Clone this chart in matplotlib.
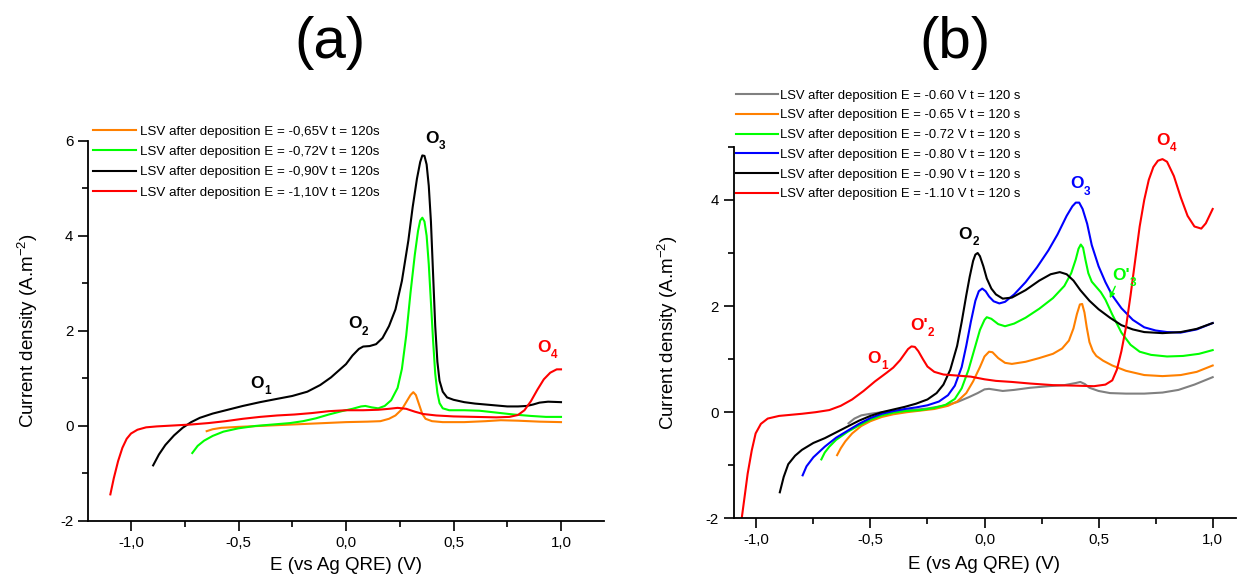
"""
Two-panel LSV plot: current density vs potential after deposition at
several potentials, (a) and (b), with peak labels O1..O4.
"""

import matplotlib

matplotlib.use("Agg")
import matplotlib.pyplot as plt
from matplotlib.ticker import FuncFormatter, MultipleLocator
from matplotlib.transforms import offset_copy

W, H = 1238, 579

# ---- panel (a) data -------------------------------------------------------
a_labels = [
    "LSV after deposition E = -0,65V t = 120s",
    "LSV after deposition E = -0,72V t = 120s",
    "LSV after deposition E = -0,90V t = 120s",
    "LSV after deposition E = -1,10V t = 120s",
]

a_x_065 = [-0.648, -0.62, -0.58, -0.50, -0.40, -0.30, -0.20, -0.10, 0.00, 0.10,
           0.16, 0.20, 0.23, 0.26, 0.28, 0.30, 0.313, 0.325, 0.34, 0.355, 0.37,
           0.40, 0.45, 0.55, 0.65, 0.72, 0.80, 0.90, 1.00]
a_y_065 = [-0.11, -0.07, -0.04, -0.02, 0.00, 0.02, 0.04, 0.06, 0.08, 0.09,
           0.10, 0.15, 0.22, 0.35, 0.50, 0.65, 0.71, 0.65, 0.45, 0.25, 0.15,
           0.10, 0.08, 0.08, 0.10, 0.12, 0.11, 0.09, 0.08]

a_x_072 = [-0.715, -0.69, -0.66, -0.62, -0.57, -0.50, -0.42, -0.34, -0.26, -0.20,
           -0.14, -0.08, -0.02, 0.03, 0.07, 0.09, 0.12, 0.15, 0.18, 0.21, 0.24,
           0.26, 0.28, 0.30, 0.32, 0.335, 0.345, 0.355, 0.365, 0.375, 0.385,
           0.395, 0.405, 0.415, 0.425, 0.435, 0.45, 0.48, 0.55, 0.62, 0.70,
           0.78, 0.86, 0.93, 1.00]
a_y_072 = [-0.57, -0.42, -0.31, -0.21, -0.12, -0.05, 0.00, 0.03, 0.06, 0.10,
           0.16, 0.24, 0.31, 0.36, 0.41, 0.42, 0.39, 0.37, 0.42, 0.54, 0.80,
           1.20, 1.90, 2.80, 3.60, 4.10, 4.32, 4.38, 4.30, 4.00, 3.40,
           2.60, 1.80, 1.10, 0.70, 0.48, 0.37, 0.33, 0.33, 0.32, 0.28,
           0.24, 0.21, 0.19, 0.19]

a_x_090 = [-0.897, -0.87, -0.84, -0.80, -0.76, -0.72, -0.68, -0.62, -0.55, -0.48,
           -0.40, -0.32, -0.25, -0.18, -0.12, -0.07, -0.03, 0.00, 0.03, 0.06,
           0.08, 0.11, 0.14, 0.17, 0.20, 0.23, 0.26, 0.29, 0.31, 0.33, 0.345,
           0.355, 0.365, 0.375, 0.385, 0.395, 0.405, 0.415, 0.425, 0.435, 0.45,
           0.47, 0.50, 0.55, 0.60, 0.65, 0.70, 0.75, 0.80, 0.84, 0.87, 0.90,
           0.94, 1.00]
a_y_090 = [-0.83, -0.60, -0.40, -0.20, -0.04, 0.08, 0.17, 0.26, 0.34, 0.42,
           0.50, 0.57, 0.63, 0.72, 0.86, 1.02, 1.18, 1.30, 1.48, 1.62,
           1.67, 1.68, 1.72, 1.85, 2.10, 2.45, 3.05, 3.90, 4.60, 5.20, 5.55,
           5.69, 5.68, 5.50, 5.05, 4.30, 3.20, 2.10, 1.35, 0.95, 0.72,
           0.60, 0.55, 0.50, 0.47, 0.45, 0.43, 0.41, 0.41, 0.42, 0.45, 0.49,
           0.51, 0.50]

a_x_110 = [-1.096, -1.08, -1.06, -1.04, -1.02, -1.00, -0.97, -0.93, -0.88, -0.80,
           -0.72, -0.64, -0.56, -0.48, -0.40, -0.32, -0.24, -0.16, -0.08, 0.00,
           0.08, 0.15, 0.20, 0.24, 0.28, 0.32, 0.36, 0.42, 0.50, 0.60, 0.70,
           0.76, 0.80, 0.83, 0.86, 0.89, 0.92, 0.95, 0.98, 1.00]
a_y_110 = [-1.44, -1.10, -0.74, -0.46, -0.27, -0.16, -0.08, -0.03, -0.01, 0.01,
           0.03, 0.06, 0.10, 0.15, 0.19, 0.22, 0.24, 0.27, 0.31, 0.33,
           0.33, 0.34, 0.36, 0.38, 0.36, 0.30, 0.25, 0.22, 0.20, 0.19, 0.18,
           0.19, 0.23, 0.33, 0.52, 0.76, 0.98, 1.12, 1.19, 1.19]

# ---- panel (b) data -------------------------------------------------------
b_labels = [
    "LSV after deposition E = -0.60 V t = 120 s",
    "LSV after deposition E = -0.65 V t = 120 s",
    "LSV after deposition E = -0.72 V t = 120 s",
    "LSV after deposition E = -0.80 V t = 120 s",
    "LSV after deposition E = -0.90 V t = 120 s",
    "LSV after deposition E = -1.10 V t = 120 s",
]

b_x_060 = [-0.596, -0.57, -0.54, -0.50, -0.45, -0.40, -0.32, -0.25, -0.18, -0.12,
           -0.07, -0.03, 0.00, 0.02, 0.05, 0.08, 0.13, 0.20, 0.28, 0.35, 0.40,
           0.42, 0.44, 0.46, 0.50, 0.55, 0.62, 0.70, 0.78, 0.85, 0.92, 1.00]
b_y_060 = [-0.21, -0.12, -0.06, -0.03, 0.00, 0.02, 0.04, 0.07, 0.12, 0.19,
           0.28, 0.36, 0.43, 0.44, 0.42, 0.40, 0.42, 0.46, 0.49, 0.51, 0.55,
           0.57, 0.53, 0.46, 0.40, 0.36, 0.35, 0.35, 0.37, 0.42, 0.52, 0.66]

b_x_065 = [-0.646, -0.63, -0.61, -0.58, -0.54, -0.50, -0.45, -0.40, -0.34, -0.28,
           -0.22, -0.16, -0.12, -0.08, -0.05, -0.02, 0.00, 0.02, 0.035, 0.06,
           0.09, 0.12, 0.18, 0.24, 0.30, 0.34, 0.37, 0.39, 0.405, 0.418, 0.428,
           0.438, 0.448, 0.46, 0.475, 0.49, 0.52, 0.56, 0.62, 0.70, 0.78, 0.86,
           0.93, 1.00]
b_y_065 = [-0.81, -0.68, -0.55, -0.40, -0.26, -0.17, -0.09, -0.04, 0.00, 0.03,
           0.06, 0.12, 0.20, 0.36, 0.58, 0.85, 1.05, 1.14, 1.13, 1.02,
           0.93, 0.91, 0.95, 1.02, 1.10, 1.20, 1.35, 1.58, 1.85, 2.03, 2.04,
           1.88, 1.60, 1.32, 1.15, 1.06, 0.97, 0.88, 0.78, 0.70, 0.68, 0.70,
           0.76, 0.88]

b_x_072 = [-0.715, -0.70, -0.68, -0.65, -0.60, -0.55, -0.50, -0.45, -0.40, -0.35,
           -0.28, -0.22, -0.17, -0.13, -0.10, -0.07, -0.04, -0.02, 0.00, 0.01,
           0.03, 0.06, 0.09, 0.13, 0.18, 0.24, 0.30, 0.35, 0.38, 0.40, 0.412,
           0.422, 0.432, 0.442, 0.455, 0.47, 0.49, 0.51, 0.53, 0.56, 0.60,
           0.64, 0.68, 0.73, 0.80, 0.87, 0.94, 1.00]
b_y_072 = [-0.89, -0.76, -0.65, -0.52, -0.37, -0.25, -0.14, -0.06, -0.01, 0.02,
           0.04, 0.08, 0.14, 0.25, 0.45, 0.80, 1.25, 1.55, 1.74, 1.79,
           1.76, 1.66, 1.62, 1.67, 1.78, 1.95, 2.15, 2.38, 2.62, 2.88, 3.08,
           3.16, 3.10, 2.88, 2.62, 2.46, 2.36, 2.26, 2.12, 1.84, 1.50,
           1.27, 1.14, 1.08, 1.05, 1.06, 1.10, 1.17]

b_x_080 = [-0.797, -0.78, -0.75, -0.70, -0.65, -0.60, -0.55, -0.50, -0.45, -0.40,
           -0.35, -0.30, -0.25, -0.20, -0.16, -0.13, -0.10, -0.08, -0.06, -0.04,
           -0.025, -0.01, 0.005, 0.02, 0.04, 0.065, 0.09, 0.13, 0.18, 0.23, 0.28,
           0.32, 0.36, 0.385, 0.40, 0.415, 0.43, 0.45, 0.47, 0.50, 0.53, 0.56,
           0.60, 0.65, 0.70, 0.75, 0.80, 0.86, 0.93, 1.00]
b_y_080 = [-1.19, -1.02, -0.85, -0.65, -0.48, -0.35, -0.22, -0.11, -0.03, 0.02,
           0.06, 0.09, 0.13, 0.20, 0.32, 0.50, 0.85, 1.25, 1.70, 2.10,
           2.28, 2.33, 2.28, 2.18, 2.09, 2.05, 2.08, 2.22, 2.45, 2.73, 3.05,
           3.35, 3.70, 3.88, 3.95, 3.95, 3.83, 3.55, 3.15, 2.75, 2.45, 2.20,
           1.96, 1.74, 1.60, 1.54, 1.51, 1.50, 1.56, 1.68]

b_x_090 = [-0.897, -0.88, -0.86, -0.83, -0.80, -0.75, -0.70, -0.65, -0.60, -0.55,
           -0.50, -0.45, -0.40, -0.35, -0.30, -0.25, -0.21, -0.18, -0.15, -0.12,
           -0.10, -0.08, -0.065, -0.05, -0.04, -0.03, -0.02, -0.005, 0.01, 0.03,
           0.05, 0.08, 0.12, 0.18, 0.24, 0.29, 0.33, 0.36, 0.39, 0.42, 0.46,
           0.50, 0.55, 0.60, 0.65, 0.70, 0.78, 0.86, 0.93, 1.00]
b_y_090 = [-1.51, -1.22, -0.98, -0.82, -0.71, -0.58, -0.49, -0.38, -0.27, -0.16,
           -0.07, 0.00, 0.05, 0.10, 0.16, 0.24, 0.36, 0.52, 0.80, 1.25,
           1.70, 2.20, 2.55, 2.85, 2.97, 3.00, 2.94, 2.75, 2.52, 2.33,
           2.22, 2.14, 2.16, 2.30, 2.48, 2.60, 2.64, 2.60, 2.48, 2.30, 2.10,
           1.94, 1.78, 1.64, 1.56, 1.51, 1.49, 1.51, 1.57, 1.68]

b_x_110 = [-1.085, -1.064, -1.05, -1.038, -1.02, -1.003, -0.98, -0.95, -0.90, -0.85,
           -0.80, -0.74, -0.68, -0.63, -0.58, -0.53, -0.48, -0.43, -0.40, -0.37,
           -0.35, -0.335, -0.32, -0.305, -0.29, -0.27, -0.25, -0.22, -0.18, -0.12,
           -0.06, 0.00, 0.05, 0.12, 0.20, 0.30, 0.40, 0.48, 0.53, 0.56, 0.58,
           0.60, 0.62, 0.64, 0.66, 0.68, 0.70, 0.72, 0.74, 0.76, 0.78, 0.80,
           0.83, 0.86, 0.89, 0.92, 0.95, 0.97, 0.99, 1.00]
b_y_110 = [-2.70, -2.00, -1.55, -1.16, -0.72, -0.40, -0.22, -0.12, -0.07, -0.05,
           -0.03, 0.00, 0.04, 0.12, 0.24, 0.40, 0.58, 0.74, 0.84, 0.98,
           1.10, 1.19, 1.24, 1.23, 1.15, 1.00, 0.86, 0.76, 0.71, 0.69,
           0.67, 0.62, 0.59, 0.57, 0.54, 0.51, 0.50, 0.49, 0.52, 0.60, 0.80,
           1.15, 1.60, 2.20, 2.85, 3.50, 4.00, 4.38, 4.62, 4.74, 4.77, 4.72,
           4.45, 4.05, 3.70, 3.50, 3.46, 3.56, 3.74, 3.83]

ORANGE = "#FF8000"
GREEN = "#00FF00"
BLUE = "#0000FF"
RED = "#FF0000"
GREY = "#808080"
BLACK = "#000000"

plt.rcParams["font.family"] = ["Liberation Sans", "DejaVu Sans"]
plt.rcParams["mathtext.fontset"] = "custom"
plt.rcParams["mathtext.rm"] = "Liberation Sans"
plt.rcParams["mathtext.it"] = "Liberation Sans:italic"
plt.rcParams["mathtext.bf"] = "Liberation Sans:bold"
plt.rcParams["axes.unicode_minus"] = False


def _fx(px):
    return px / W


def _fy(py):
    return 1 - py / H


def _comma(v, _pos):
    return f"{v:.1f}".replace(".", ",")


def _style_axes(ax, xlim, ylim):
    ax.set_xlim(*xlim)
    ax.set_ylim(*ylim)
    for side in ("top", "right"):
        ax.spines[side].set_visible(False)
    for side in ("left", "bottom"):
        ax.spines[side].set_linewidth(1.3)
    ax.xaxis.set_major_locator(MultipleLocator(0.5))
    ax.xaxis.set_minor_locator(MultipleLocator(0.25))
    ax.yaxis.set_major_locator(MultipleLocator(2))
    ax.yaxis.set_minor_locator(MultipleLocator(1))
    ax.xaxis.set_major_formatter(FuncFormatter(_comma))
    ax.yaxis.set_major_formatter(FuncFormatter(lambda v, p: f"{v:.0f}"))
    ax.tick_params(which="major", direction="out", length=7, width=1.2,
                   labelsize=10.8, pad=3.5)
    ax.tick_params(which="minor", direction="out", length=4, width=1.2)
    ax.set_xlabel("E (vs Ag QRE) (V)", fontsize=13.5)
    ax.set_ylabel("Current density (A.m$^{-2}$)", fontsize=13.5)


def _peak(ax, x, y, base, sub, color):
    """Bold peak label such as O1 or O'2, with a dropped subscript."""
    ax.text(x, y, base, color=color, fontsize=12.5, fontweight="bold",
            ha="left", va="baseline", clip_on=False)
    shift = 9.9 if base == "O" else 12.6
    tr = offset_copy(ax.transData, fig=ax.figure, x=shift, y=-4.5, units="points")
    ax.text(x, y, sub, color=color, fontsize=8.5, fontweight="bold",
            ha="left", va="baseline", transform=tr, clip_on=False)


fig = plt.figure(figsize=(W / 100, H / 100), dpi=100)

# ---- (a) ------------------------------------------------------------------
ax_a = fig.add_axes([_fx(88), _fy(521), 516 / W, 380.3 / H])
lw = 1.5
ax_a.plot(a_x_065, a_y_065, color=ORANGE, lw=lw, label=a_labels[0])
ax_a.plot(a_x_072, a_y_072, color=GREEN, lw=lw, label=a_labels[1])
ax_a.plot(a_x_090, a_y_090, color=BLACK, lw=lw, label=a_labels[2])
ax_a.plot(a_x_110, a_y_110, color=RED, lw=lw, label=a_labels[3])
_style_axes(ax_a, (-1.2, 1.2), (-2, 6))
ax_a.yaxis.set_label_coords((40 - 88) / 516, 0.5)
ax_a.xaxis.set_label_coords(0.5, -0.095)

_peak(ax_a, -0.444, 0.805, "O", "1", BLACK)
_peak(ax_a, 0.009, 2.05, "O", "2", BLACK)
_peak(ax_a, 0.368, 5.95, "O", "3", BLACK)
_peak(ax_a, 0.888, 1.555, "O", "4", RED)

ax_a.legend(loc="upper left", bbox_to_anchor=(_fx(93), _fy(125.6)),
            bbox_transform=fig.transFigure, frameon=False, fontsize=9.6,
            handlelength=3.24, handletextpad=0.3, labelspacing=0.59,
            borderpad=0, borderaxespad=0)

fig.text(_fx(330), _fy(58), "(a)", fontsize=42, ha="center", va="baseline")

# ---- (b) ------------------------------------------------------------------
ax_b = fig.add_axes([_fx(733.5), _fy(518.3), 502 / W, 371.4 / H])
ax_b.plot(b_x_060, b_y_060, color=GREY, lw=lw, label=b_labels[0])
ax_b.plot(b_x_065, b_y_065, color=ORANGE, lw=lw, label=b_labels[1])
ax_b.plot(b_x_072, b_y_072, color=GREEN, lw=lw, label=b_labels[2])
ax_b.plot(b_x_080, b_y_080, color=BLUE, lw=lw, label=b_labels[3])
ax_b.plot(b_x_090, b_y_090, color=BLACK, lw=lw, label=b_labels[4])
ax_b.plot(b_x_110, b_y_110, color=RED, lw=lw, label=b_labels[5])
_style_axes(ax_b, (-1.1, 1.1), (-2, 5))
ax_b.yaxis.set_label_coords((680 - 733.5) / 502, 0.5)
ax_b.xaxis.set_label_coords(0.5, -0.102)

_peak(ax_b, -0.513, 0.93, "O", "1", RED)
_peak(ax_b, -0.324, 1.55, "O'", "2", RED)
_peak(ax_b, -0.113, 3.26, "O", "2", BLACK)
_peak(ax_b, 0.376, 4.22, "O", "3", BLUE)
_peak(ax_b, 0.561, 2.49, "O'", "3", GREEN)
_peak(ax_b, 0.751, 5.04, "O", "4", RED)
ax_b.annotate("", xy=(0.544, 2.10), xytext=(0.578, 2.42),
              arrowprops={"arrowstyle": "-|>", "color": GREEN, "lw": 1.0,
                          "mutation_scale": 8})

ax_b.legend(loc="upper left", bbox_to_anchor=(_fx(735.7), _fy(89.6)),
            bbox_transform=fig.transFigure, frameon=False, fontsize=9.4,
            handlelength=3.25, handletextpad=0.15, labelspacing=0.58,
            borderpad=0, borderaxespad=0)

fig.text(_fx(955), _fy(58), "(b)", fontsize=42, ha="center", va="baseline")

fig.savefig("out.png", dpi=100)
plt.close(fig)
